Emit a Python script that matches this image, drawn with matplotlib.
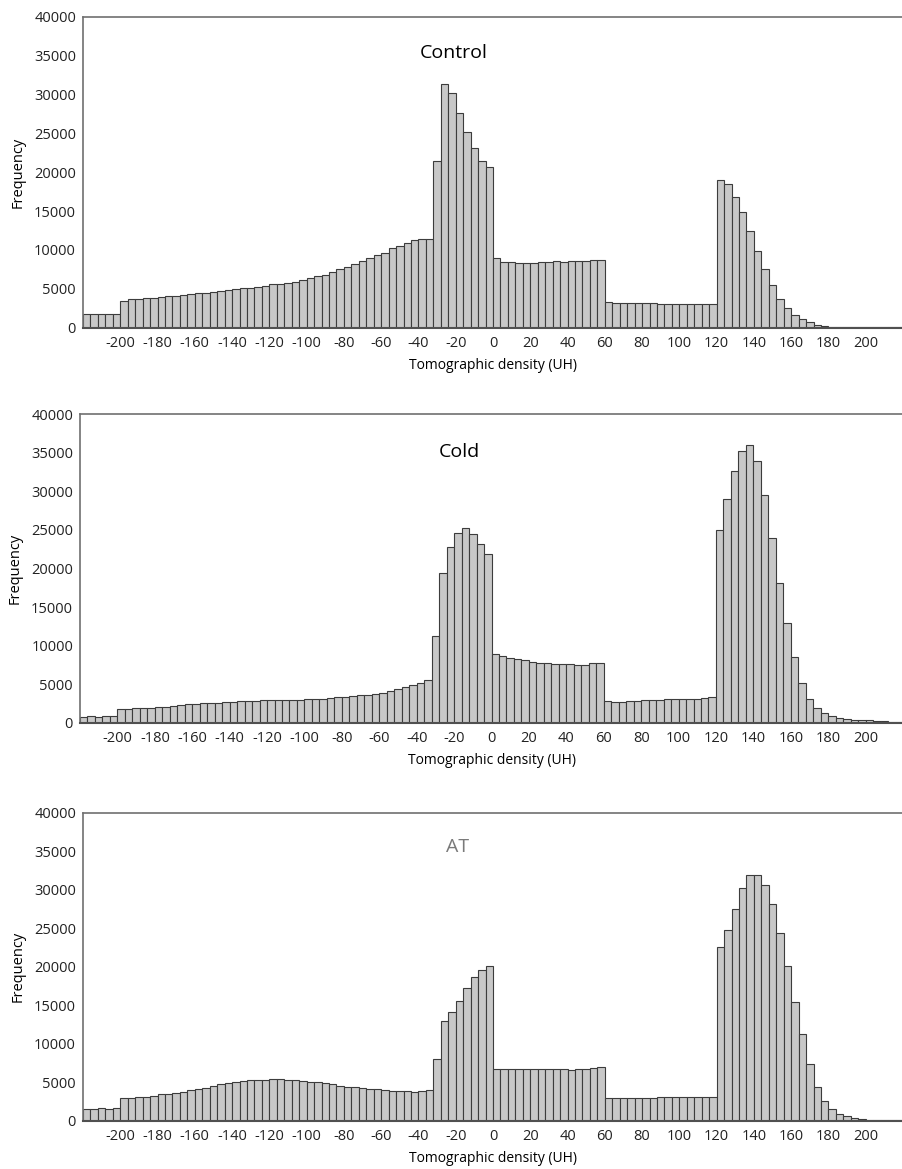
import numpy as np
import matplotlib
matplotlib.use("Agg")
import matplotlib.pyplot as plt

plt.rcParams['font.family'] = ['Open Sans', 'DejaVu Sans']
plt.rcParams['axes.unicode_minus'] = False

# bins of 4 UH from -220 to 220
bin_left = np.arange(-220, 220, 4)

control = [
    1715, 1715, 1715, 1715, 1715, 3430, 3640, 3690, 3770, 3770,
    3940, 4030, 4030, 4160, 4330, 4460, 4460, 4630, 4670, 4800,
    4970, 5060, 5140, 5230, 5400, 5570, 5570, 5790, 5830, 6130,
    6390, 6600, 6820, 7200, 7500, 7760, 8150, 8530, 8960, 9300,
    9650, 10200, 10550, 10930, 11270, 11400, 11450, 21390, 31300, 30140,
    27570, 25210, 23060, 21430, 20620, 8960, 8450, 8400, 8360, 8360,
    8320, 8400, 8490, 8530, 8450, 8620, 8570, 8620, 8700, 8700,
    3340, 3170, 3130, 3170, 3130, 3170, 3170, 3090, 3090, 3090,
    3090, 3090, 3090, 3000, 3090, 18990, 18430, 16850, 14830, 12470,
    9820, 7550, 5440, 3640, 2570, 1670, 1070, 690, 390, 210,
    130, 50, 40, 40, 40, 40, 120, 130, 130, 130,
]

cold = [
    780, 865, 780, 865, 865, 1730, 1730, 1860, 1860, 1950,
    2030, 2030, 2160, 2290, 2380, 2380, 2510, 2510, 2590, 2640,
    2720, 2810, 2810, 2850, 2900, 2940, 2980, 2980, 2940, 2980,
    3030, 3030, 3070, 3160, 3290, 3370, 3500, 3550, 3630, 3760,
    3850, 4110, 4320, 4630, 4840, 5150, 5530, 11290, 19460, 22740,
    24650, 25300, 24470, 23180, 21880, 8910, 8600, 8390, 8260, 8090,
    7910, 7780, 7700, 7650, 7570, 7570, 7520, 7480, 7700, 7780,
    2810, 2720, 2720, 2810, 2810, 2900, 2940, 2940, 3030, 3030,
    3030, 3110, 3110, 3240, 3290, 24950, 28970, 32650, 35240, 36020,
    33900, 29490, 24000, 18160, 12890, 8520, 5190, 3070, 1860, 1210,
    870, 650, 480, 390, 350, 300, 260, 260, 130, 130,
]

at = [
    1510, 1510, 1640, 1510, 1640, 2940, 3030, 3110, 3160, 3290,
    3460, 3550, 3680, 3810, 3980, 4110, 4320, 4540, 4760, 4890,
    5100, 5230, 5360, 5360, 5280, 5450, 5450, 5320, 5320, 5190,
    5100, 5020, 4930, 4760, 4580, 4450, 4370, 4240, 4190, 4110,
    4020, 3930, 3850, 3850, 3810, 3890, 4060, 8040, 12970, 14180,
    15570, 17210, 18640, 19540, 20110, 6750, 6750, 6750, 6750, 6750,
    6750, 6750, 6750, 6750, 6750, 6620, 6750, 6790, 6880, 7050,
    2940, 2940, 2940, 2940, 3030, 3030, 3030, 3070, 3110, 3110,
    3110, 3110, 3160, 3160, 3160, 22610, 24820, 27500, 30180, 31910,
    31950, 30610, 28100, 24390, 20110, 15390, 11240, 7400, 4450, 2590,
    1510, 860, 610, 390, 260, 170, 170, 170, 170, 170,
]

panel_names = ["Control", "Cold", "AT"]
name_colors = ["black", "black", "#7a7a7a"]
name_pos = [(-21, 35300), (-17, 35100), (-19, 35500)]
x_ticks = np.arange(-200, 201, 20)
y_ticks = np.arange(0, 40001, 5000)

fig = plt.figure(figsize=(9.03, 11.69), dpi=100)

axes_rects = [
    [0.0919, 0.7197, 0.9081, 0.2660],
    [0.0886, 0.3818, 0.9114, 0.2638],
    [0.0919, 0.0411, 0.9081, 0.2637],
]

for rect, vals, name, col, pos in zip(axes_rects, [control, cold, at],
                                      panel_names, name_colors, name_pos):
    ax = fig.add_axes(rect)
    ax.bar(bin_left, vals, width=4, align="edge",
           color="#c8c8c8", edgecolor="#3c3c3c", linewidth=0.8)
    ax.set_xlim(-220, 220)
    ax.set_ylim(0, 40000)
    ax.set_xticks(x_ticks)
    ax.set_yticks(y_ticks)
    ax.tick_params(length=0, labelsize=10.5, colors="#222222")
    ax.tick_params(axis="x", pad=6)
    ax.tick_params(axis="y", pad=5)
    ax.set_xlabel("Tomographic density (UH)", fontsize=10, labelpad=5)
    ax.set_ylabel("Frequency", fontsize=10.5, labelpad=6)
    ax.spines["right"].set_visible(False)
    for s in ["top", "left"]:
        ax.spines[s].set_color("#707070")
        ax.spines[s].set_linewidth(1.2)
    ax.spines["bottom"].set_color("#505050")
    ax.spines["bottom"].set_linewidth(1.5)
    ax.text(pos[0], pos[1], name, ha="center", va="center",
            fontsize=14, color=col)

fig.savefig("out.png", dpi=100)
